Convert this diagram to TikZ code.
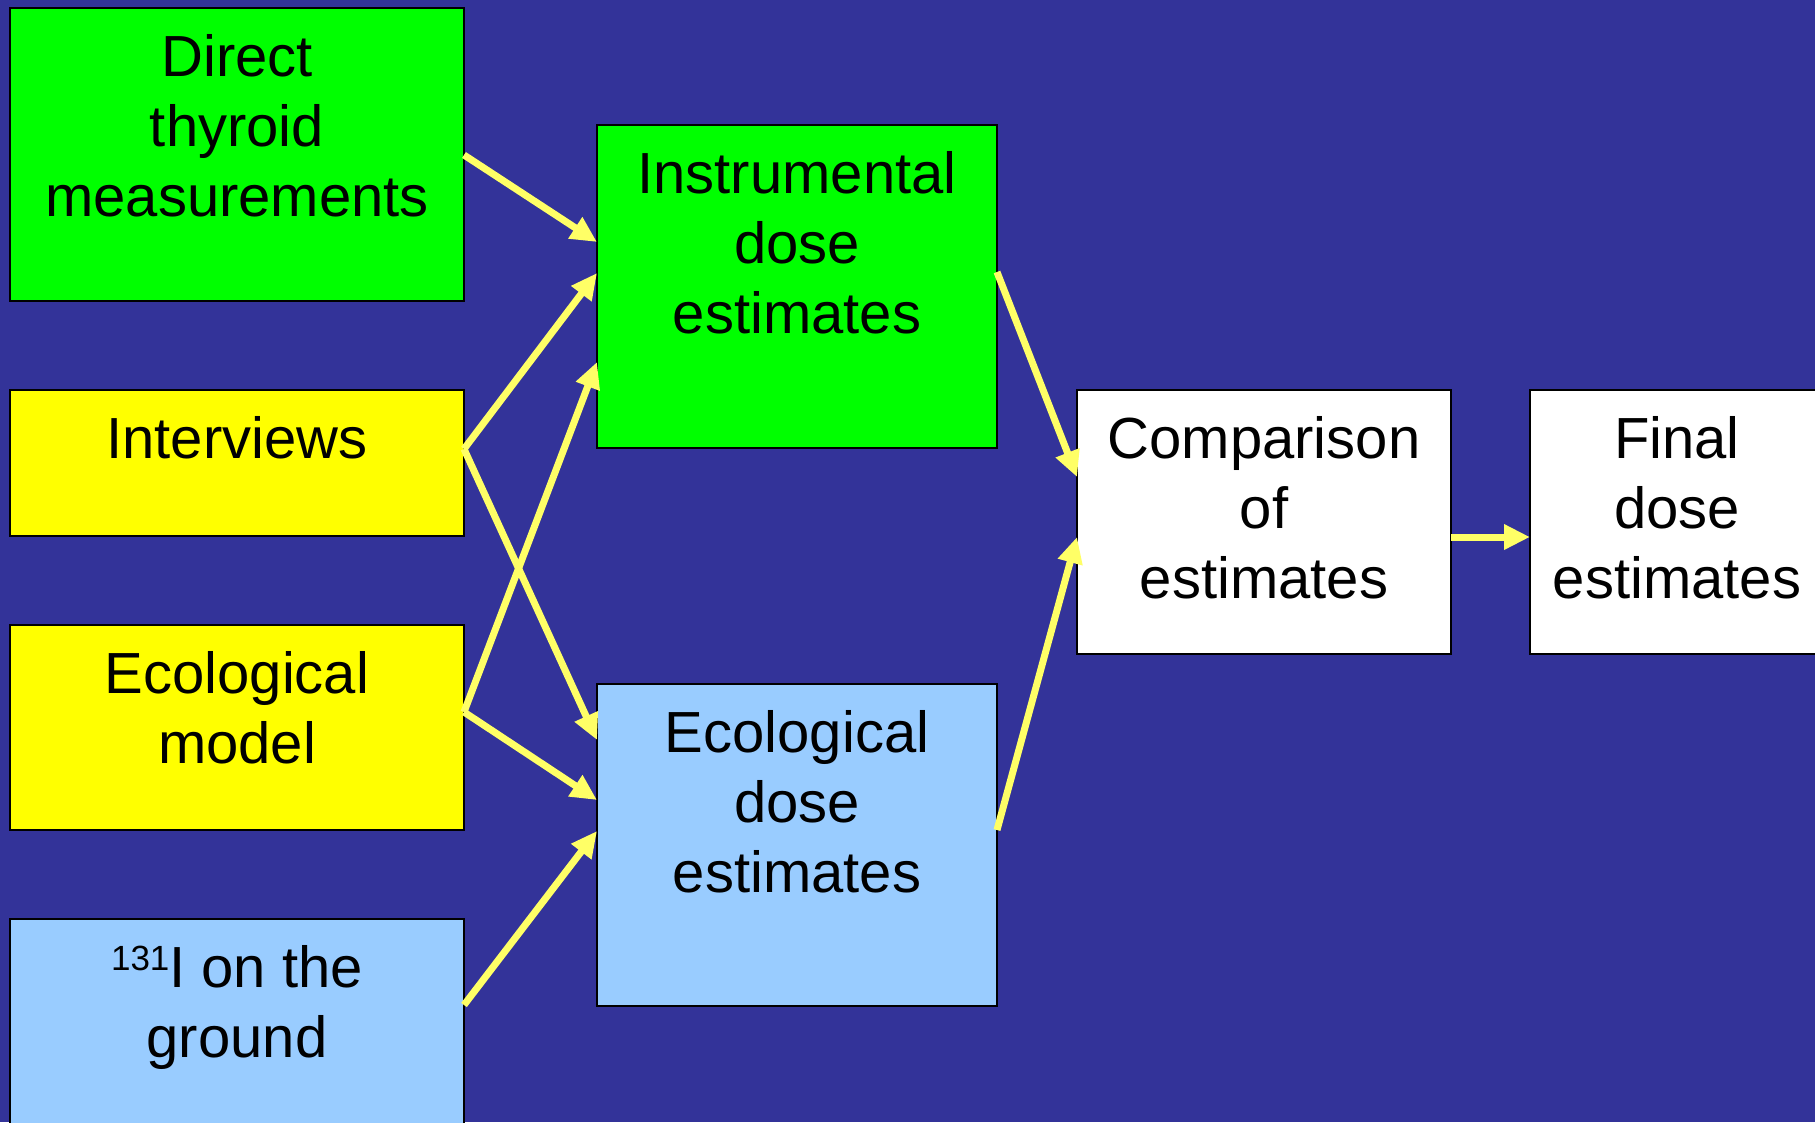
\documentclass[tikz,border=0pt]{standalone}
\usepackage{fontspec}
\setmainfont{Liberation Sans}
\usetikzlibrary{arrows.meta}
\definecolor{bgblue}{RGB}{51,51,153}
\definecolor{boxgreen}{RGB}{0,255,0}
\definecolor{boxyellow}{RGB}{255,255,0}
\definecolor{boxblue}{RGB}{153,204,255}
\definecolor{arrowyellow}{RGB}{255,255,102}
\tikzset{
  box/.style={draw=black, line width=2pt, rectangle, inner sep=0pt, outer sep=0pt, anchor=north west},
  boxtext/.style={anchor=north, inner sep=0pt, align=center, font=\fontsize{58}{70}\selectfont, text=black},
  flow/.style={draw=arrowyellow, line width=7pt, -{Triangle[length=26pt,width=24pt]}},
}
\newcommand{\fstrut}{\rule{0pt}{50pt}}
\begin{document}
\begin{tikzpicture}[x=1pt,y=-1pt]
\useasboundingbox (0,0) rectangle (1815,1122);
\clip (0,0) rectangle (1815,1122);
\fill[bgblue] (0,0) rectangle (1815,1122);

% boxes
\node[box, fill=boxgreen,  minimum width=454pt, minimum height=293pt] (direct)  at (10,8) {};
\node[box, fill=boxyellow, minimum width=454pt, minimum height=146pt] (interv)  at (10,390) {};
\node[box, fill=boxyellow, minimum width=454pt, minimum height=205pt] (ecomod)  at (10,625) {};
\node[box, fill=boxblue,   minimum width=454pt, minimum height=221pt] (iodine)  at (10,919) {};
\node[box, fill=boxgreen,  minimum width=400pt, minimum height=323pt] (instr)   at (597,125) {};
\node[box, fill=boxblue,   minimum width=400pt, minimum height=322pt] (ecodose) at (597,684) {};
\node[box, fill=white,     minimum width=374pt, minimum height=264pt] (comp)    at (1077,390) {};
\node[box, fill=white,     minimum width=294pt, minimum height=264pt] (final)   at (1530,390) {};

% texts
\node[boxtext] (tdirect)  at ([yshift=-18pt]direct.north)  {\fstrut Direct\\thyroid\\measurements};
\node[boxtext] (tinterv)  at ([yshift=-18pt]interv.north)  {\fstrut Interviews};
\node[boxtext] (tecomod)  at ([yshift=-18pt]ecomod.north)  {\fstrut Ecological\\model};
\node[boxtext] (tiodine)  at ([yshift=-18pt]iodine.north)  {\fstrut\raisebox{17pt}{\fontsize{35}{35}\selectfont 131}I on the\\ground};
\node[boxtext] (tinstr)   at ([yshift=-18pt]instr.north)   {\fstrut Instrumental\\dose\\estimates};
\node[boxtext] (tecodose) at ([yshift=-18pt]ecodose.north) {\fstrut Ecological\\dose\\estimates};
\node[boxtext] (tcomp)    at ([yshift=-18pt]comp.north)    {\fstrut Comparison\\of\\estimates};
\node[boxtext] (tfinal)   at ([yshift=-18pt]final.north)   {\fstrut Final\\dose\\estimates};

% connectors
\draw[flow] ([yshift=-147pt]direct.north east) -- ([yshift=-117pt]instr.north west);
\draw[flow] ([yshift=-59pt]interv.north east)  -- ([yshift=-148pt]instr.north west);
\draw[flow] ([yshift=-59pt]interv.north east)  -- ([yshift=-56pt]ecodose.north west);
\draw[flow] ([yshift=-87pt]ecomod.north east)  -- ([yshift=-237pt]instr.north west);
\draw[flow] ([yshift=-87pt]ecomod.north east)  -- ([yshift=-116pt]ecodose.north west);
\draw[flow] ([yshift=-86pt]iodine.north east)  -- ([yshift=-147pt]ecodose.north west);
\draw[flow] ([yshift=-147pt]instr.north east)  -- ([yshift=-87pt]comp.north west);
\draw[flow] ([yshift=-146pt]ecodose.north east) -- ([yshift=-147pt]comp.north west);
\draw[flow] ([yshift=-147pt]comp.north east)   -- ([yshift=-147pt]final.north west);
\end{tikzpicture}
\end{document}
